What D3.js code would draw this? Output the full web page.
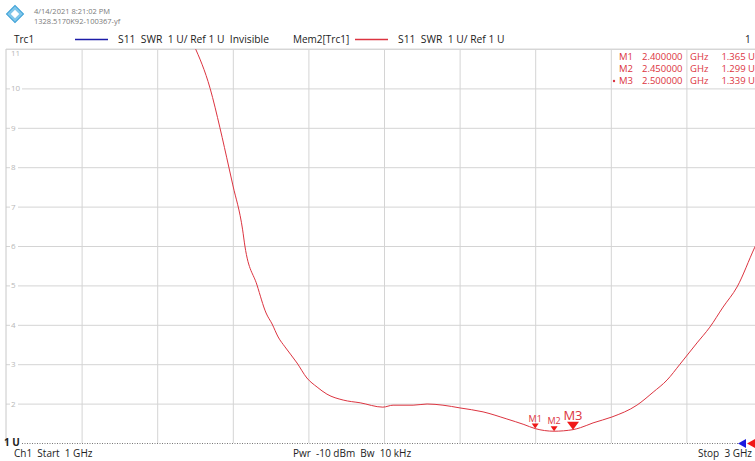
<!DOCTYPE html>
<html>
<head>
<meta charset="utf-8">
<script src="https://cdn.jsdelivr.net/npm/d3@7"></script>
<style>
  body { margin: 0; background: #fff; }
  svg { display: block; font-family: "Open Sans", "Noto Sans", sans-serif; }
</style>
</head>
<body>
<svg id="chart"></svg>
<script>
// Trace data: frequency (GHz) and SWR
let freqGHz = [1.497, 1.54, 1.566, 1.59, 1.60, 1.626, 1.632, 1.664, 1.688, 1.704, 1.72, 1.738, 1.77, 1.796, 1.823, 1.849, 1.892, 1.937, 1.997, 2.024, 2.077, 2.114, 2.156, 2.201, 2.262, 2.325, 2.37, 2.4, 2.45, 2.5, 2.52, 2.553, 2.603, 2.669, 2.712, 2.749, 2.783, 2.828, 2.862, 2.897, 2.934, 2.981, 3.0];
let swr = [11.1, 10.0, 9.0, 7.98, 7.55, 6.41, 6.0, 5.01, 4.3, 4.02, 3.69, 3.44, 3.03, 2.65, 2.42, 2.24, 2.09, 2.02, 1.91, 1.96, 1.96, 1.99, 1.96, 1.89, 1.79, 1.61, 1.47, 1.365, 1.299, 1.339, 1.39, 1.51, 1.66, 1.96, 2.29, 2.6, 3.0, 3.54, 3.94, 4.45, 4.96, 5.97, 6.35];

// Markers
let markerNames = ['M1', 'M2', 'M3'];
let markerFreq = [2.4, 2.45, 2.5];
let markerSwr = [1.365, 1.299, 1.339];
let markerFreqText = ['2.400000', '2.450000', '2.500000'];
let markerSwrText = ['1.365 U', '1.299 U', '1.339 U'];

// Axis ticks
let yTicks = [2, 3, 4, 5, 6, 7, 8, 9, 10, 11];
let xTicks = [1.2, 1.4, 1.6, 1.8, 2.0, 2.2, 2.4, 2.6, 2.8, 3.0];

let width = 755;
let height = 461;
let plotLeft = 6;
let plotRight = 762;
let plotTop = 49;
let plotBottom = 443;

let red = '#dc3440';
let gridColor = '#d4d4d4';

let svg = d3.select('#chart').attr('width', width).attr('height', height);

let xScale = d3.scaleLinear().domain([1, 3]).range([plotLeft, plotRight]);
let yScale = d3.scaleLinear().domain([1, 11]).range([plotBottom, plotTop]);

// Header
let logo = svg.append('g').attr('transform', 'translate(15,14) rotate(45)');
logo.append('rect').attr('x', -6).attr('y', -6).attr('width', 12).attr('height', 12)
    .attr('fill', '#7fc6ea').attr('stroke', '#3a9fd6').attr('stroke-width', 1);
logo.append('rect').attr('x', -3).attr('y', -3).attr('width', 6).attr('height', 6)
    .attr('fill', '#fff');

svg.append('text').attr('x', 34).attr('y', 14).attr('font-size', 7.5).attr('fill', '#7a7a7a')
    .text('4/14/2021 8:21:02 PM');
svg.append('text').attr('x', 34).attr('y', 24).attr('font-size', 7.5).attr('fill', '#7a7a7a')
    .text('1328.5170K92-100367-yf');

svg.append('text').attr('x', 14).attr('y', 43).attr('font-size', 10).attr('fill', '#222').text('Trc1');
svg.append('line').attr('x1', 75).attr('x2', 108).attr('y1', 39.5).attr('y2', 39.5)
    .attr('stroke', '#1c1ca8').attr('stroke-width', 1.3);
svg.append('text').attr('x', 118).attr('y', 43).attr('font-size', 10.3).attr('fill', '#222')
    .attr('xml:space', 'preserve').text('S11  SWR  1 U/ Ref 1 U  Invisible');
svg.append('text').attr('x', 293).attr('y', 43).attr('font-size', 10).attr('fill', '#222').text('Mem2[Trc1]');
svg.append('line').attr('x1', 355).attr('x2', 388).attr('y1', 39.5).attr('y2', 39.5)
    .attr('stroke', red).attr('stroke-width', 1.3);
svg.append('text').attr('x', 398).attr('y', 43).attr('font-size', 10.3).attr('fill', '#222')
    .attr('xml:space', 'preserve').text('S11  SWR  1 U/ Ref 1 U');
svg.append('text').attr('x', 745).attr('y', 43).attr('font-size', 10).attr('fill', '#222').text('1');

// Grid
svg.append('g')
    .attr('transform', 'translate(0,' + plotBottom + ')')
    .call(d3.axisBottom(xScale).tickValues(xTicks).tickSize(-(plotBottom - plotTop)).tickFormat(''))
    .call(g => g.select('.domain').remove())
    .call(g => g.selectAll('line').attr('stroke', gridColor));

svg.append('g')
    .attr('transform', 'translate(' + plotLeft + ',0)')
    .call(d3.axisLeft(yScale).tickValues(yTicks).tickSize(-(plotRight - plotLeft)).tickFormat(''))
    .call(g => g.select('.domain').remove())
    .call(g => g.selectAll('line').attr('stroke', gridColor));

// frame
svg.append('line').attr('x1', plotLeft).attr('x2', plotLeft).attr('y1', plotTop).attr('y2', plotBottom)
    .attr('stroke', '#c8c8c8');
svg.append('line').attr('x1', plotLeft).attr('x2', width).attr('y1', plotTop).attr('y2', plotTop)
    .attr('stroke', '#d8d8d8');

// y labels
let yl = svg.append('g');
yTicks.forEach(t => {
    let w = t >= 10 ? 10 : 6;
    if (t < 11) {
        yl.append('rect').attr('x', 10).attr('y', yScale(t) - 4).attr('width', w + 2).attr('height', 8)
            .attr('fill', '#fff');
    }
    yl.append('text').attr('x', 11).attr('y', yScale(t) + (t === 11 ? 7 : 3))
        .attr('font-size', 8).attr('fill', '#b8b8b8').text(t);
});

// Trace
svg.append('clipPath').attr('id', 'clip').append('rect')
    .attr('x', plotLeft).attr('y', plotTop).attr('width', plotRight - plotLeft).attr('height', plotBottom - plotTop);

let line = d3.line()
    .x((d, i) => xScale(freqGHz[i]))
    .y(d => yScale(d))
    .curve(d3.curveMonotoneX);

svg.append('path')
    .datum(swr)
    .attr('clip-path', 'url(#clip)')
    .attr('d', line)
    .attr('fill', 'none')
    .attr('stroke', red)
    .attr('stroke-width', 1);

// Markers on trace
markerNames.forEach((m, i) => {
    let cx = xScale(markerFreq[i]);
    let cy = yScale(markerSwr[i]);
    let big = i === 2;
    let s = big ? 6 : 3.5;
    let h = big ? 8 : 5;
    svg.append('path')
        .attr('d', 'M' + (cx - s) + ',' + (cy - h) + 'L' + (cx + s) + ',' + (cy - h) + 'L' + cx + ',' + cy + 'Z')
        .attr('fill', '#f01818');
    svg.append('text')
        .attr('x', cx).attr('y', cy - h - 2)
        .attr('text-anchor', 'middle')
        .attr('font-size', big ? 13 : 9)
        .attr('fill', red)
        .text(m);
});

// Marker readout
markerNames.forEach((m, i) => {
    let y = 60 + i * 12;
    if (i === 2) {
        svg.append('circle').attr('cx', 614).attr('cy', y - 3).attr('r', 1.2).attr('fill', red);
    }
    svg.append('text').attr('x', 619).attr('y', y).attr('font-size', 9.5).attr('fill', red).text(m);
    svg.append('text').attr('x', 642).attr('y', y).attr('font-size', 9.5).attr('fill', red).text(markerFreqText[i]);
    svg.append('text').attr('x', 690).attr('y', y).attr('font-size', 9.5).attr('fill', red).text('GHz');
    svg.append('text').attr('x', 755).attr('y', y).attr('text-anchor', 'end').attr('font-size', 9.5).attr('fill', red).text(markerSwrText[i]);
});

// Reference line and footer
svg.append('line').attr('x1', 22).attr('x2', 738).attr('y1', plotBottom + 0.5).attr('y2', plotBottom + 0.5)
    .attr('stroke', '#777').attr('stroke-dasharray', '1,1.5');
svg.append('text').attr('x', 4).attr('y', 446).attr('font-size', 10).attr('font-weight', 'bold')
    .attr('fill', '#222').text('1 U');
svg.append('path').attr('d', 'M738,443.5L746,439L746,448Z').attr('fill', '#1c1ce0');
svg.append('path').attr('d', 'M747,443.5L755,439L755,448Z').attr('fill', '#f01818');

svg.append('text').attr('x', 14).attr('y', 457).attr('font-size', 10).attr('fill', '#222')
    .attr('xml:space', 'preserve').text('Ch1  Start  1 GHz');
svg.append('text').attr('x', 293).attr('y', 457).attr('font-size', 10).attr('fill', '#222')
    .attr('xml:space', 'preserve').text('Pwr  -10 dBm  Bw  10 kHz');
svg.append('text').attr('x', 698).attr('y', 457).attr('font-size', 10).attr('fill', '#222')
    .attr('xml:space', 'preserve').text('Stop  3 GHz');
</script>
</body>
</html>
